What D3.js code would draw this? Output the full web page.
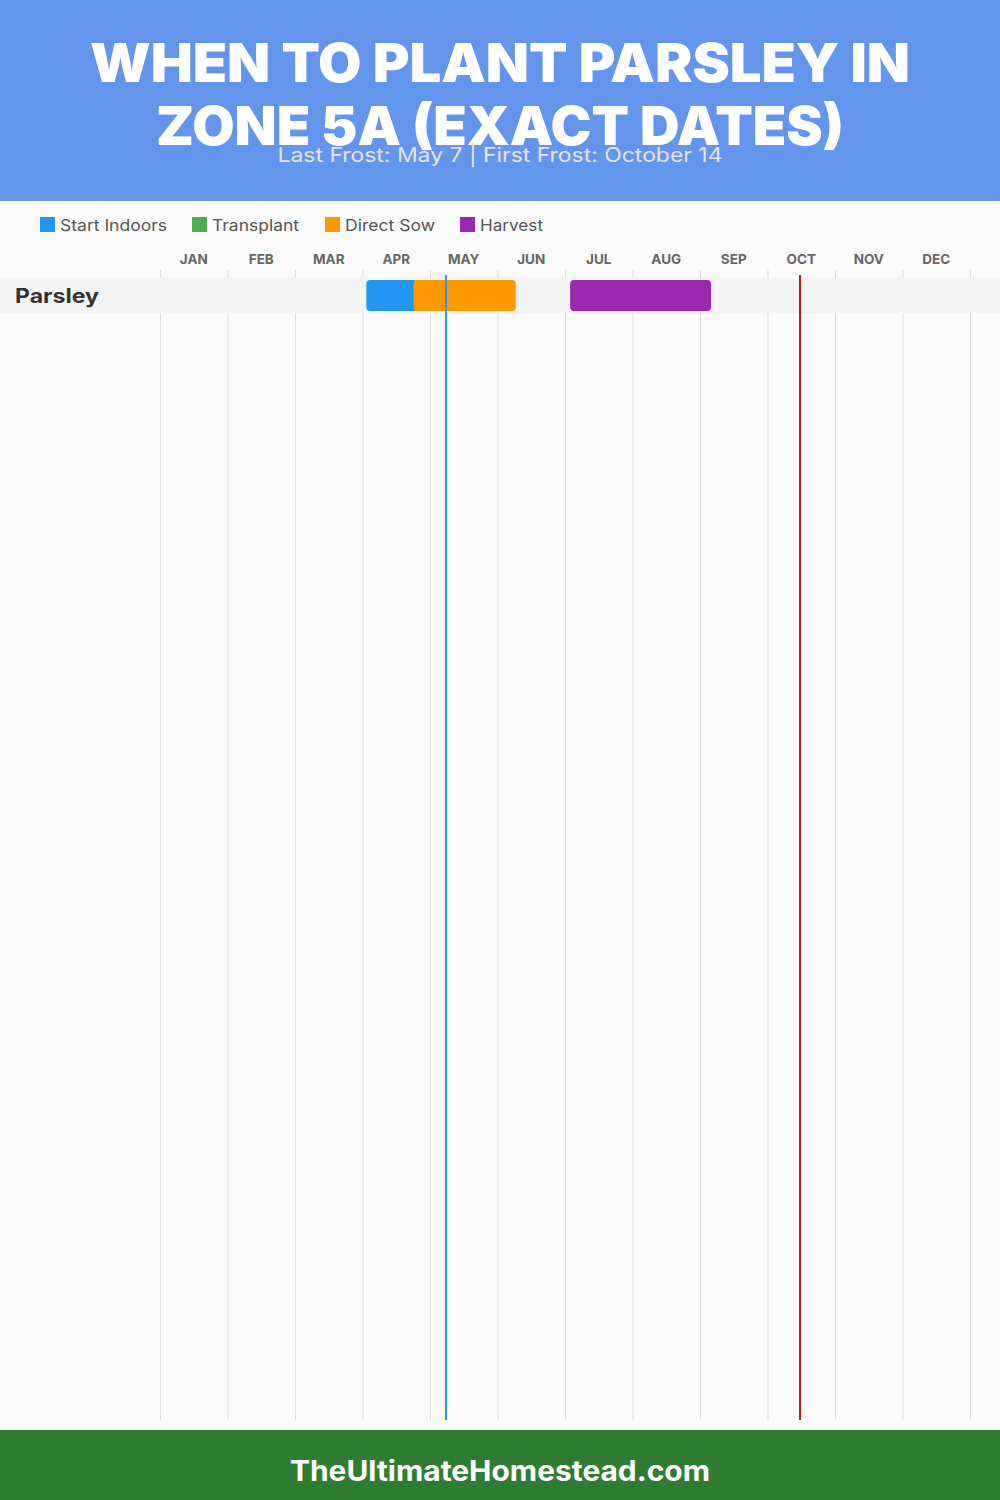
<!DOCTYPE html>
<html><head><meta charset="utf-8">
<script src="https://cdn.jsdelivr.net/npm/d3@7"></script>
<style>html,body{margin:0;padding:0;background:#fafafa;}svg{display:block;}</style>
</head><body>
<script>
// ---- data ----
const titleLines = ["WHEN TO PLANT PARSLEY IN", "ZONE 5A (EXACT DATES)"];
const subtitle = "Last Frost: May 7 | First Frost: October 14";
const footerText = "TheUltimateHomestead.com";
const months = ["JAN","FEB","MAR","APR","MAY","JUN","JUL","AUG","SEP","OCT","NOV","DEC"];
const legendLabels = ["Start Indoors","Transplant","Direct Sow","Harvest"];
const legendColors = ["#2196F3","#4CAF50","#FF9800","#9C27B0"];
const crops = ["Parsley"];
// bars: [crop, phase, startDay, endDay] (day of year, estimated)
const barCrop  = ["Parsley","Parsley","Parsley"];
const barPhase = ["Start Indoors","Direct Sow","Harvest"];
const barStart = [93, 114.3, 184.8];
const barEnd   = [116, 160.3, 248.3];
const frostLabels = ["Last Frost","First Frost"];
const frostDays = [128.9, 288.4];
const frostColors = ["#2196F3","#B71C1C"];

const W = 1000, H = 1500;
const FONT = "Inter, 'Open Sans', sans-serif";
const svg = d3.select("body").append("svg").attr("width", W).attr("height", H);

// background
svg.append("rect").attr("x",0).attr("y",0).attr("width",W).attr("height",H).attr("fill","#fafafa");
// header
svg.append("rect").attr("x",0).attr("y",0).attr("width",W).attr("height",201).attr("fill","#6495ED");
const titleY = [82, 145];
titleLines.forEach((t,i)=>{
  svg.append("text").attr("x",500).attr("y",titleY[i]).attr("text-anchor","middle")
    .attr("font-family",FONT).attr("font-weight",900)
    .attr("font-size",54).attr("fill","#fff")
    .attr("textLength", i===0 ? 820 : 688).attr("lengthAdjust","spacingAndGlyphs")
    .text(t);
});
svg.append("text").attr("x",500).attr("y",162).attr("text-anchor","middle")
  .attr("font-family",FONT).attr("font-size",20)
  .attr("fill","#e3e3e3").attr("textLength",445).attr("lengthAdjust","spacingAndGlyphs")
  .text(subtitle);

// legend
const legendX = [40,192,325,460];
const legendTextW = [107,87,90,63];
const lg = svg.append("g");
legendLabels.forEach((l,i)=>{
  lg.append("rect").attr("x",legendX[i]).attr("y",217).attr("width",15).attr("height",15).attr("fill",legendColors[i]);
  lg.append("text").attr("x",legendX[i]+20).attr("y",231).attr("font-family",FONT)
    .attr("font-size",16).attr("fill","#555")
    .attr("textLength",legendTextW[i]).attr("lengthAdjust","spacingAndGlyphs").text(l);
});

// scales
const x = d3.scaleLinear().domain([0,365]).range([160,970]);
const xm = d3.scaleBand().domain(months).range([160,970]);
const y = d3.scaleBand().domain(crops).range([278,313]);
const color = d3.scaleOrdinal().domain(legendLabels).range(legendColors);

// month labels
svg.append("g").selectAll("text").data(months).join("text")
  .attr("x",d=>xm(d)+xm.bandwidth()/2).attr("y",264).attr("text-anchor","middle")
  .attr("font-family",FONT).attr("font-weight",700)
  .attr("font-size",13.5).attr("fill","#666").text(d=>d);

// gridlines
const gridX = months.map(m=>xm(m)).concat([xm.range()[1]]);
svg.append("g").selectAll("line").data(gridX).join("line")
  .attr("x1",d=>d+0.5).attr("x2",d=>d+0.5).attr("y1",270).attr("y2",1420)
  .attr("stroke","#dddddd").attr("stroke-width",1);

// row bands
svg.append("g").selectAll("rect").data(crops).join("rect")
  .attr("x",0).attr("y",d=>y(d)).attr("width",W).attr("height",y.bandwidth()).attr("fill","#f4f4f4");
svg.append("g").selectAll("text").data(crops).join("text")
  .attr("x",15).attr("y",d=>y(d)+y.bandwidth()/2+7).attr("font-family",FONT)
  .attr("font-weight",700).attr("font-size",20).attr("fill","#333")
  .attr("textLength",84).attr("lengthAdjust","spacingAndGlyphs").text(d=>d);

// bars
const bars = barCrop.map((c,i)=>({c, p:barPhase[i], s:barStart[i], e:barEnd[i]}));
svg.append("g").selectAll("rect").data(bars).join("rect")
  .attr("x",d=>x(d.s)).attr("width",d=>x(d.e)-x(d.s))
  .attr("y",d=>y(d.c)+2).attr("height",y.bandwidth()-4)
  .attr("rx",4).attr("fill",d=>color(d.p));

// frost lines
svg.append("g").selectAll("line").data(frostDays).join("line")
  .attr("x1",d=>x(d)).attr("x2",d=>x(d)).attr("y1",275).attr("y2",1420)
  .attr("stroke",(d,i)=>frostColors[i]).attr("stroke-width",2);

// footer
svg.append("rect").attr("x",0).attr("y",1430).attr("width",W).attr("height",70).attr("fill","#2E7D32");
svg.append("text").attr("x",500).attr("y",1481).attr("text-anchor","middle")
  .attr("font-family",FONT).attr("font-weight",700)
  .attr("font-size",28).attr("fill","#fff").attr("textLength",420).attr("lengthAdjust","spacingAndGlyphs")
  .text(footerText);
</script>
</body></html>
